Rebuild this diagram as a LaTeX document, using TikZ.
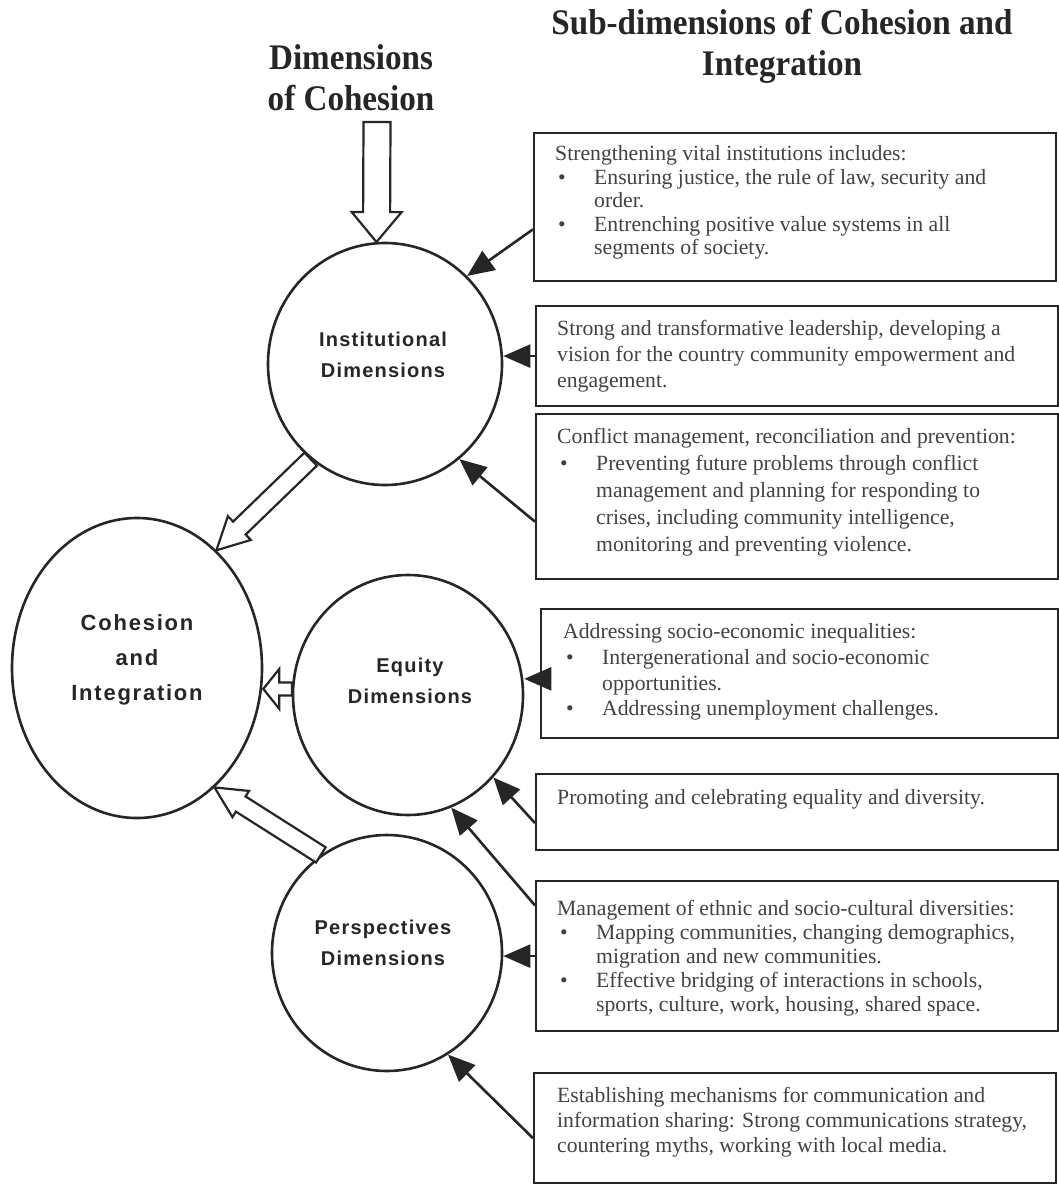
\documentclass[tikz,border=0pt]{standalone}
\usepackage{fontspec}
\setmainfont{Liberation Serif}
\newfontfamily\titlefont[FakeStretch=0.92]{Liberation Serif}
\newfontfamily\labfont[LetterSpace=6]{Liberation Sans}
\newfontfamily\labfontw[LetterSpace=8]{Liberation Sans}
\usetikzlibrary{shapes.geometric,arrows.meta,calc}
\definecolor{ink}{HTML}{262626}
\definecolor{txt}{HTML}{424242}
\newcommand{\bli}[1]{\makebox[39pt][l]{\hspace*{3pt}\textbullet}#1}
\newcommand{\cli}[1]{\hspace*{39pt}#1}
\newcommand{\blockarr}[5]{%
  \coordinate (hb) at ($(#2)!#5!(#1)$);
  \draw[hollow] ($(#1)!#3!90:(#2)$) -- ($(hb)!#3!-90:(#1)$) -- ($(hb)!#4!-90:(#1)$) -- (#2)
    -- ($(hb)!#4!90:(#1)$) -- ($(hb)!#3!90:(#1)$) -- ($(#1)!#3!-90:(#2)$) -- cycle;}
\begin{document}
\begin{tikzpicture}[x=1pt,y=-1pt,
  boxst/.style={draw=ink, line width=2.2pt, inner sep=0pt, anchor=north west},
  circst/.style={ellipse, draw=ink, line width=2.6pt, inner sep=0pt},
  body/.style={anchor=north west, align=left, inner sep=0pt, text=txt},
  ttl/.style={align=center, inner sep=0pt, anchor=north, text=ink, font=\titlefont\bfseries\fontsize{36}{41}\selectfont},
  lab/.style={align=center, inner sep=0pt, anchor=north, text=ink, font=\labfont\bfseries\fontsize{20}{31}\selectfont},
  thinarr/.style={draw=ink, line width=2.6pt, -{Triangle[length=27pt,width=23pt]}},
  hollow/.style={draw=ink, line width=2.2pt, fill=white, line join=miter}
]
\fill[white] (0,0) rectangle (1059,1185);
\useasboundingbox (0,0) rectangle (1059,1185);

% titles
\node[ttl] (dimttl) at (351,44) {Dimensions\\of Cohesion};
\node[ttl] (subttl) at (782,9) {Sub-dimensions of Cohesion and\\Integration};

% circles
\node[circst, minimum width=234pt, minimum height=242pt] (inst) at (385,364) {};
\node[circst, minimum width=250pt, minimum height=300pt] (coh) at (137,668) {};
\node[circst, minimum width=230pt, minimum height=240pt] (eq) at (408,695) {};
\node[circst, minimum width=230pt, minimum height=236pt] (persp) at (387,953) {};

\node[lab] (instlab) at (383,332) {Institutional\\Dimensions};
\node[lab] (eqlab) at (410,657.5) {Equity\\Dimensions};
\node[lab] (perlab) at (383,919.5) {Perspectives\\Dimensions};
\node[lab, font=\labfontw\bfseries\fontsize{22}{35}\selectfont] (cohlab) at (137,614) {Cohesion\\and\\Integration};

% boxes
\node[boxst, minimum width=522pt, minimum height=148pt] (b1) at (533,132) {};
\node[boxst, minimum width=522pt, minimum height=100pt] (b2) at (535,305) {};
\node[boxst, minimum width=522pt, minimum height=165pt] (b3) at (535,413) {};
\node[boxst, minimum width=517pt, minimum height=129pt] (b4) at (540,608) {};
\node[boxst, minimum width=522pt, minimum height=76pt] (b5) at (535,773) {};
\node[boxst, minimum width=522pt, minimum height=150pt] (b6) at (535,880) {};
\node[boxst, minimum width=522pt, minimum height=110pt] (b7) at (533,1072) {};

% box texts
\node[body, font=\fontsize{21.7}{23.5}\selectfont] (t1) at (555,145.5) {Strengthening vital institutions includes:\\
\bli{Ensuring justice, the rule of law, security and}\\
\cli{order.}\\
\bli{Entrenching positive value systems in all}\\
\cli{segments of society.}};
\node[body, font=\fontsize{21.7}{26}\selectfont] (t2) at (557,320.5) {Strong and transformative leadership, developing a\\
vision for the country community empowerment and\\
engagement.};
\node[body, font=\fontsize{21.7}{27}\selectfont] (t3) at (557,428.5) {Conflict management, reconciliation and prevention:\\
\bli{Preventing future problems through conflict}\\
\cli{management and planning for responding to}\\
\cli{crises, including community intelligence,}\\
\cli{monitoring and preventing violence.}};
\node[body, font=\fontsize{21.7}{25.7}\selectfont] (t4) at (563,623.5) {Addressing socio-economic inequalities:\\
\bli{Intergenerational and socio-economic}\\
\cli{opportunities.}\\
\bli{Addressing unemployment challenges.}};
\node[body, font=\fontsize{21.7}{25}\selectfont] (t5) at (557,789.5) {Promoting and celebrating equality and diversity.};
\node[body, font=\fontsize{21.7}{24}\selectfont] (t6) at (557,900.5) {Management of ethnic and socio-cultural diversities:\\
\bli{Mapping communities, changing demographics,}\\
\cli{migration and new communities.}\\
\bli{Effective bridging of interactions in schools,}\\
\cli{sports, culture, work, housing, shared space.}};
\node[body, font=\fontsize{21.7}{25}\selectfont] (t7) at (557,1087.5) {Establishing mechanisms for communication and\\
information sharing: Strong communications strategy,\\
countering myths, working with local media.};

% thin arrows from boxes to circles
\draw[thinarr] ($(b1.north west)!0.648!(b1.south west)$) -- (inst.47);
\draw[thinarr] (b2.west) -- (b2.west -| inst.east);
\draw[thinarr] ($(b3.north west)!0.65!(b3.south west)$) -- (inst.-52);
\coordinate (a4s) at ($(b4.north west)!0.54!(b4.south west)$);
\draw[thinarr] (a4s) -- (a4s -| eq.east);
\draw[thinarr] ($(b5.north west)!0.64!(b5.south west)$) -- (eq.-44);
\draw[thinarr] ($(b6.north west)!0.167!(b6.south west)$) -- (eq.-69);
\draw[thinarr] (b6.west) -- (b6.west -| persp.east);
\draw[thinarr] ($(b7.north west)!0.59!(b7.south west)$) -- (persp.-59);

% hollow block arrows
\coordinate (topTail) at (377,122);
\blockarr{topTail}{inst.94}{13.5pt}{25pt}{30pt}
\blockarr{inst.232}{coh.56}{9pt}{16.5pt}{32pt}
\coordinate (ecTip) at (eq.177 -| coh.east);
\blockarr{eq.177}{ecTip}{6.5pt}{20pt}{16pt}
\blockarr{persp.124}{coh.-57}{9pt}{15.5pt}{31pt}
\end{tikzpicture}
\end{document}
